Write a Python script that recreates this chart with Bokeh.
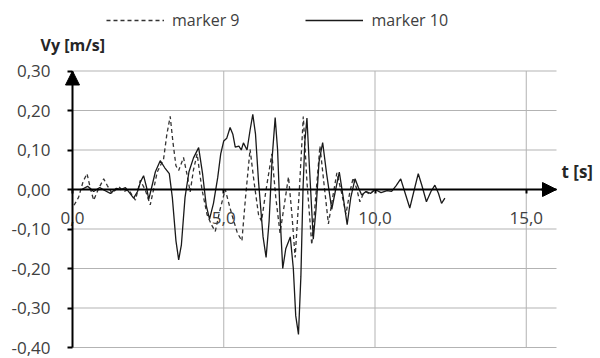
from bokeh.plotting import figure
from bokeh.models import (FixedTicker, CustomJSTickFormatter, Arrow, NormalHead,
                          Legend, LegendItem, Label, ColumnDataSource, Range1d)
from bokeh.embed import file_html
from bokeh.resources import INLINE

# ---- data (t [s], Vy [m/s]) ----
t_m10 = [0.3, 0.5, 0.7, 0.9, 1.05, 1.25, 1.45, 1.6, 1.75, 1.9, 2.02, 2.15, 2.25, 2.35, 2.45,
         2.52, 2.6, 2.74, 2.9, 3.05, 3.2, 3.3, 3.42, 3.51, 3.6, 3.72, 3.85, 4.0, 4.17, 4.3,
         4.42, 4.53, 4.66, 4.8, 4.9, 5.0, 5.1, 5.21, 5.3, 5.38, 5.5, 5.58, 5.65, 5.77, 5.87,
         5.96, 6.05, 6.15, 6.3, 6.4, 6.5, 6.6, 6.7, 6.78, 6.87, 6.95, 7.05, 7.2, 7.3, 7.38,
         7.47, 7.55, 7.62, 7.68, 7.75, 7.83, 7.96, 8.05, 8.15, 8.27, 8.4, 8.57, 8.7, 8.82,
         8.95, 9.08, 9.2, 9.34, 9.45, 9.56, 9.7, 9.85, 10.0, 10.2, 10.4, 10.55, 10.7, 10.85,
         11.0, 11.15, 11.3, 11.43, 11.55, 11.7, 11.85, 11.98, 12.1, 12.2, 12.31]
v_m10 = [0.0, 0.008, -0.005, 0.005, -0.002, -0.01, 0.003, 0.0, 0.005, -0.01, -0.022, -0.005,
         0.02, 0.035, 0.005, -0.025, 0.0, 0.045, 0.073, 0.055, 0.04, -0.02, -0.13, -0.178,
         -0.14, -0.02, 0.045, 0.08, 0.106, 0.04, -0.04, -0.075, -0.035, 0.03, 0.09, 0.123,
         0.13, 0.157, 0.14, 0.107, 0.11, 0.1, 0.118, 0.1, 0.15, 0.19, 0.14, 0.02, -0.12,
         -0.172, -0.08, 0.08, 0.182, 0.1, -0.08, -0.2, -0.15, -0.12, -0.2, -0.32, -0.367,
         -0.22, 0.0, 0.12, 0.181, 0.06, -0.126, -0.05, 0.07, 0.119, 0.04, -0.05, 0.0, 0.044,
         -0.02, -0.089, -0.02, 0.027, 0.005, -0.014, -0.005, -0.01, 0.0, -0.008, -0.003,
         -0.005, 0.01, 0.027, -0.01, -0.047, 0.0, 0.04, 0.01, -0.031, -0.005, 0.011, -0.01,
         -0.035, -0.022]

t_m9 = [0.05, 0.2, 0.35, 0.48, 0.6, 0.7, 0.85, 1.03, 1.15, 1.31, 1.53, 1.7, 1.85, 2.08, 2.24,
        2.4, 2.57, 2.68, 2.8, 3.01, 3.12, 3.23, 3.32, 3.42, 3.51, 3.67, 3.78, 3.89, 4.0, 4.12,
        4.28, 4.45, 4.6, 4.72, 4.88, 5.05, 5.15, 5.27, 5.45, 5.6, 5.72, 5.87, 6.0, 6.15, 6.25,
        6.4, 6.59, 6.72, 6.86, 7.0, 7.14, 7.25, 7.36, 7.5, 7.63, 7.75, 7.91, 8.05, 8.18, 8.32,
        8.46, 8.6, 8.74, 8.9, 9.04, 9.16, 9.28, 9.4, 9.5, 9.62, 9.72, 9.82, 9.95]
v_m9 = [-0.04, -0.02, 0.02, 0.04, 0.0, -0.027, 0.0, 0.027, 0.01, -0.01, 0.007, -0.005, 0.0,
        -0.027, 0.023, 0.0, -0.039, 0.0, 0.044, 0.077, 0.14, 0.185, 0.12, 0.06, 0.048, 0.081,
        0.04, -0.006, 0.05, 0.09, 0.0, -0.064, -0.09, -0.106, -0.05, 0.0, -0.03, -0.064,
        -0.11, -0.13, -0.02, 0.102, 0.02, -0.064, -0.08, 0.0, 0.09, -0.02, -0.11, -0.04,
        0.032, -0.06, -0.172, 0.0, 0.185, 0.02, -0.14, -0.01, 0.11, 0.01, -0.087, -0.02,
        0.042, -0.01, -0.062, -0.01, 0.03, 0.0, -0.031, -0.01, -0.006, -0.012, -0.003]

x_ticks = [0, 5, 10, 15]
y_ticks = [-0.4, -0.3, -0.2, -0.1, 0.0, 0.1, 0.2, 0.3]
x_min, x_max = 0, 16
y_min, y_max = -0.4, 0.3
series_names = ["marker 9", "marker 10"]
x_title = "t [s]"
y_title = "Vy [m/s]"

FONT = "Open Sans"
W, H = 600, 358
# pixel placement of the plotting area inside the canvas
PX_L, PX_R, PX_T, PX_B = 72, 556, 70.5, 347
sx = (PX_R - PX_L) / (x_max - x_min)
sy = (PX_B - PX_T) / (y_max - y_min)

p = figure(width=W, height=H, output_backend="svg", toolbar_location=None,
           x_range=Range1d(x_min - PX_L / sx, x_max + (W - PX_R) / sx),
           y_range=Range1d(y_min - (H - PX_B) / sy, y_max + PX_T / sy),
           min_border=0)
p.outline_line_color = None
p.background_fill_color = "white"
p.border_fill_color = "white"
p.xgrid.visible = False
p.ygrid.visible = False

GRID = "#b3b3b3"
# grid lines limited to the plotting area
p.segment(x0=x_ticks, y0=[y_min] * len(x_ticks), x1=x_ticks, y1=[y_max] * len(x_ticks),
          line_color=GRID, line_width=1)
p.segment(x0=[x_min] * len(y_ticks), y0=y_ticks, x1=[x_max] * len(y_ticks), y1=y_ticks,
          line_color=GRID, line_width=1)

# y axis at t = 0
ya = p.yaxis[0]
ya.fixed_location = 0
ya.bounds = (y_min, y_max)
ya.ticker = FixedTicker(ticks=y_ticks)
ya.formatter = CustomJSTickFormatter(code="return tick.toFixed(2).replace('.', ',');")
ya.axis_line_color = "black"
ya.axis_line_width = 2
ya.major_tick_line_color = "black"
ya.major_tick_line_width = 2
ya.major_tick_out = 5
ya.major_tick_in = 0
ya.minor_tick_line_color = None
ya.major_label_standoff = 17
ya.major_label_text_font = FONT
ya.major_label_text_font_size = "17px"
ya.major_label_text_color = "#404040"

# x axis crossing at Vy = 0
xa = p.xaxis[0]
xa.fixed_location = 0
xa.bounds = (x_min, x_max)
xa.ticker = FixedTicker(ticks=x_ticks)
xa.formatter = CustomJSTickFormatter(code="return tick.toFixed(1).replace('.', ',');")
xa.axis_line_color = "black"
xa.axis_line_width = 2
xa.major_tick_line_color = "black"
xa.major_tick_line_width = 2
xa.major_tick_out = 4
xa.major_tick_in = 0
xa.minor_tick_line_color = None
xa.major_label_standoff = 18
xa.major_label_text_font = FONT
xa.major_label_text_font_size = "17px"
xa.major_label_text_color = "#404040"

# arrows on axes
p.add_layout(Arrow(end=NormalHead(size=14, fill_color="black", line_color="black"),
                   x_start=x_max - 0.5, y_start=0, x_end=x_max, y_end=0,
                   line_color="black", line_width=2))
p.add_layout(Arrow(end=NormalHead(size=14, fill_color="black", line_color="black"),
                   x_start=0, y_start=y_max - 0.03, x_end=0, y_end=y_max,
                   line_color="black", line_width=2))

src9 = ColumnDataSource(dict(t=t_m9, v=v_m9))
src10 = ColumnDataSource(dict(t=t_m10, v=v_m10))
r9 = p.line("t", "v", source=src9, line_color="#333333", line_width=1.3, line_dash="4 3")
r10 = p.line("t", "v", source=src10, line_color="#1a1a1a", line_width=1.3)

legend = Legend(items=[LegendItem(label=series_names[0], renderers=[r9]),
                       LegendItem(label=series_names[1], renderers=[r10])],
                orientation="horizontal", location=(106, H - 31),
                margin=0, padding=0, spacing=66, glyph_width=58, glyph_height=20,
                label_height=20, label_standoff=8,
                label_text_font=FONT, label_text_font_size="16px",
                label_text_color="#404040",
                border_line_color=None, background_fill_alpha=0)
p.add_layout(legend, "center")

p.add_layout(Label(x=0, y=y_max, x_offset=-32, y_offset=26, text=y_title,
                   text_font=FONT, text_font_size="16px", text_font_style="bold",
                   text_color="#262626", text_baseline="middle", text_align="left"))
p.add_layout(Label(x=x_max, y=0, x_offset=5, y_offset=18, text=x_title,
                   text_font=FONT, text_font_size="17px", text_font_style="bold",
                   text_color="#262626", text_baseline="middle", text_align="left"))

open("out.html", "w").write(file_html(p, INLINE))
